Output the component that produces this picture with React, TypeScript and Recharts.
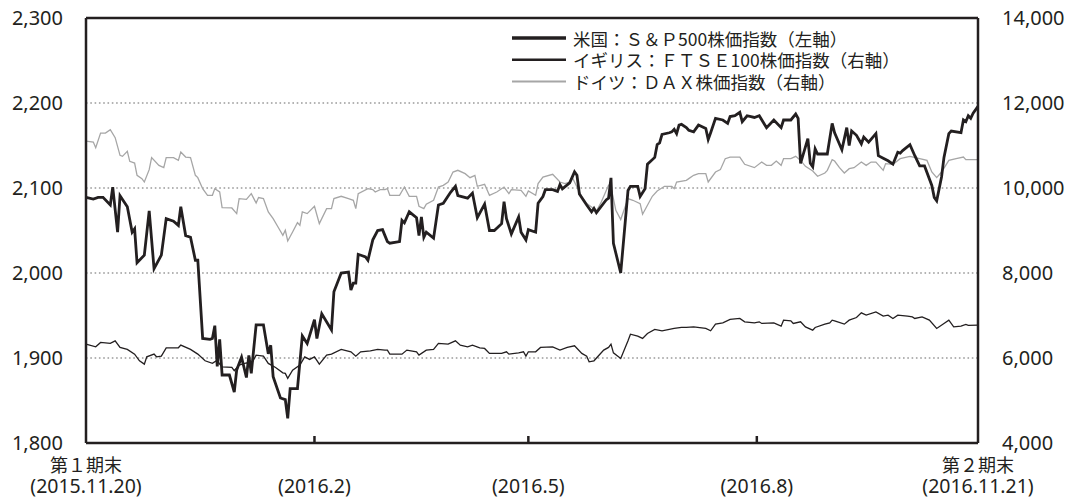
import React from 'react';
import {
  LineChart,
  Line,
  XAxis,
  YAxis,
  CartesianGrid,
  ReferenceLine,
  Legend,
} from 'recharts';

// days counted from 2015-11-20 (period 1 end) to 2016-11-21 (period 2 end)
const spDays = [
  0, 3, 5, 7, 10, 11, 13, 14, 17, 19, 20, 21, 24, 26, 28, 31, 33, 36, 38, 39, 41, 43, 45, 46, 48, 51, 52, 53, 54, 55,
  56, 59, 61, 62, 64, 66, 67, 68, 70, 73, 75, 76, 77, 80, 82, 83, 84, 87, 89, 91, 94, 95, 97, 101, 102, 105, 108, 109,
  110, 111, 112, 115, 116, 118, 120, 122, 123, 124, 125, 129, 130, 131, 133, 136, 137, 138, 139, 140, 143, 145, 147,
  150, 152, 153, 157, 159, 161, 164, 166, 168, 171, 172, 173, 175, 178, 179, 181, 182, 185, 186, 188, 189, 192, 194,
  195, 196, 199, 201, 202, 203, 206, 208, 209, 210, 214, 215, 216, 217, 220, 223, 224, 227, 228, 230, 231, 234, 235,
  236, 237, 240, 241, 242, 243, 244, 245, 247, 248, 250, 252, 255, 256, 257, 259, 262, 264, 265, 267, 269, 270, 272,
  275, 277, 280, 283, 286, 287, 290, 292, 293, 294, 297, 298, 299, 300, 301, 305, 307, 308, 311, 313, 314, 315, 317,
  319, 320, 322, 325, 326, 328, 330, 332, 334, 335, 336, 339, 341, 343, 345, 348, 349, 350, 352, 353, 355, 356, 360,
  361, 362, 363, 364, 365, 367,
];
const sp500 = [
  2089, 2087, 2089, 2089, 2080, 2101, 2048, 2091, 2078, 2048, 2052, 2012, 2021, 2073, 2005, 2021, 2064, 2061, 2056,
  2078, 2044, 2042, 2015, 2015, 1923, 1922, 1923, 1938, 1890, 1922, 1880, 1880, 1860, 1886, 1901, 1877, 1903, 1882,
  1939, 1939, 1905, 1915, 1878, 1853, 1851, 1829, 1864, 1864, 1926, 1917, 1945, 1923, 1952, 1933, 1978, 2000, 2001,
  1980, 1988, 1988, 2022, 2019, 2015, 2039, 2050, 2051, 2044, 2037, 2035, 2037, 2062, 2059, 2072, 2065, 2044, 2066,
  2042, 2048, 2041, 2080, 2082, 2095, 2102, 2091, 2088, 2094, 2065, 2081, 2050, 2050, 2058, 2084, 2064, 2046, 2066,
  2048, 2039, 2051, 2048, 2082, 2090, 2098, 2098, 2096, 2104, 2099, 2106, 2119, 2115, 2093, 2080, 2072, 2076, 2071,
  2086, 2088, 2112, 2035, 2000, 2097, 2102, 2102, 2090, 2099, 2128, 2136, 2151, 2153, 2163, 2165, 2166, 2169, 2164,
  2174, 2175, 2171, 2168, 2166, 2174, 2170, 2157, 2165, 2182, 2180, 2176, 2184, 2185, 2189, 2178, 2185, 2183, 2185,
  2171, 2180, 2171, 2180, 2180, 2187, 2182, 2129, 2158, 2129, 2125, 2146, 2140, 2140, 2176, 2165, 2145, 2171, 2150,
  2167, 2162, 2152, 2160, 2154, 2164, 2138, 2135, 2132, 2128, 2142, 2141, 2144, 2151, 2138, 2126, 2126, 2103, 2089,
  2085, 2113, 2136, 2164, 2167, 2165, 2180, 2178, 2185, 2182, 2188, 2196,
];

const ftseDays = [
  0, 4, 6, 10, 12, 14, 17, 20, 22, 24, 25, 28, 29, 31, 33, 38, 39, 43, 46, 49, 52, 54, 55, 56, 60, 61, 63, 66, 68, 70,
  73, 75, 78, 81, 82, 83, 85, 88, 90, 92, 94, 96, 99, 101, 105, 109, 111, 113, 117, 120, 123, 124, 125, 130, 132, 136,
  137, 140, 143, 145, 149, 152, 154, 157, 159, 162, 164, 166, 171, 173, 174, 178, 180, 181, 182, 185, 187, 192, 195,
  198, 201, 204, 206, 207, 209, 213, 215, 216, 217, 220, 223, 224, 227, 229, 231, 234, 237, 242, 245, 247, 250, 255,
  257, 259, 262, 265, 269, 271, 275, 277, 278, 283, 286, 287, 290, 291, 294, 296, 299, 300, 304, 306, 307, 308, 312,
  314, 317, 319, 321, 325, 328, 330, 332, 334, 338, 340, 341, 344, 347, 350, 353, 355, 357, 360, 362, 363, 367,
];
const ftse100 = [
  6326, 6263, 6366, 6343, 6404, 6249, 6202, 6091, 5934, 5856, 6028, 6091, 6028, 6044, 6240, 6240, 6303, 6202, 6091,
  5934, 5873, 5950, 5856, 5793, 5778, 5700, 5833, 5887, 5856, 6068, 6044, 5873, 5778, 5652, 5638, 5520, 5715, 5833,
  6028, 5967, 6028, 5856, 6068, 6091, 6202, 6146, 6044, 6146, 6170, 6202, 6186, 6186, 6091, 6091, 6186, 6146, 6068,
  6186, 6202, 6343, 6326, 6404, 6303, 6263, 6303, 6240, 6225, 6108, 6108, 6146, 6091, 6122, 6146, 6044, 6146, 6146,
  6249, 6263, 6186, 6249, 6287, 6108, 6044, 5911, 5934, 6186, 6249, 6326, 6122, 5990, 6404, 6561, 6515, 6460, 6578,
  6672, 6640, 6695, 6719, 6719, 6733, 6695, 6640, 6797, 6827, 6907, 6930, 6851, 6827, 6851, 6813, 6827, 6750, 6891,
  6875, 6813, 6851, 6733, 6656, 6719, 6797, 6827, 6891, 6875, 6797, 6891, 6953, 7062, 7008, 7086, 6985, 7008, 6930,
  7008, 6985, 6968, 6930, 6968, 6891, 6695, 6813, 6891, 6733, 6750, 6790, 6766, 6774,
];

const daxDays = [
  0, 3, 4, 6, 8, 10, 12, 14, 15, 17, 18, 20, 21, 23, 24, 26, 27, 30, 32, 33, 36, 38, 39, 41, 43, 45, 46, 48, 50, 52,
  53, 55, 56, 60, 62, 63, 66, 68, 70, 71, 73, 75, 77, 79, 81, 82, 83, 85, 87, 88, 89, 91, 94, 96, 99, 101, 102, 105,
  108, 110, 111, 112, 116, 118, 119, 121, 123, 124, 125, 129, 131, 133, 136, 137, 139, 140, 143, 145, 147, 149, 151,
  153, 156, 158, 160, 161, 164, 166, 169, 172, 174, 175, 179, 181, 182, 185, 186, 188, 192, 195, 197, 199, 200, 201,
  204, 206, 208, 210, 212, 215, 216, 218, 220, 223, 225, 228, 229, 231, 233, 235, 238, 241, 242, 243, 247, 248, 250,
  252, 255, 256, 259, 261, 263, 265, 269, 271, 275, 278, 280, 282, 284, 286, 287, 290, 292, 294, 296, 299, 301, 304,
  305, 307, 308, 310, 312, 314, 316, 319, 321, 323, 325, 328, 329, 332, 335, 339, 343, 346, 348, 350, 352, 355, 358,
  361, 362, 367,
];
const dax = [
  11104, 11081, 10949, 11292, 11292, 11372, 11184, 10768, 10745, 10862, 10627, 10587, 10298, 10220, 10141, 10432,
  10714, 10533, 10479, 10714, 10714, 10650, 10846, 10728, 10714, 10298, 10244, 9985, 9828, 9828, 9985, 9906, 9539,
  9530, 9398, 9750, 9734, 9868, 9647, 9774, 9750, 9436, 9280, 9083, 8888, 9005, 8754, 8966, 9186, 9123, 9436, 9398,
  9570, 9163, 9515, 9515, 9750, 9805, 9750, 9711, 9515, 9868, 9985, 9962, 9906, 9962, 9962, 9985, 9828, 9828, 10023,
  9805, 9805, 9570, 9515, 9617, 9711, 10023, 10063, 10141, 10376, 10416, 10338, 10244, 10298, 10040, 10087, 9828,
  9906, 10023, 9868, 9962, 9946, 9805, 9929, 9828, 10103, 10258, 10322, 10141, 10103, 10141, 10258, 10141, 9788,
  9633, 9553, 9459, 9671, 10063, 10023, 9476, 9257, 9750, 9711, 9633, 9382, 9593, 9805, 9929, 10040, 10040, 9985,
  10141, 10181, 10220, 10298, 10338, 10338, 10141, 10376, 10432, 10690, 10728, 10728, 10557, 10479, 10611, 10533,
  10533, 10634, 10533, 10690, 10690, 10745, 10650, 10510, 10399, 10275, 10352, 10416, 10667, 10634, 10479, 10352,
  10455, 10479, 10611, 10533, 10611, 10611, 10416, 10573, 10557, 10690, 10745, 10690, 10650, 10376, 10244, 10376,
  10650, 10690, 10728, 10667, 10667,
];

const tickDays = [0, 94, 182, 276, 367];
const periodLabels = ['第１期末', '', '', '', '第２期末'];
const dateLabels = ['(2015.11.20)', '(2016.2)', '(2016.5)', '(2016.8)', '(2016.11.21)'];
const leftTicks = [1800, 1900, 2000, 2100, 2200, 2300];
const rightTicks = [4000, 6000, 8000, 10000, 12000, 14000];
const legendNames = ['米国：Ｓ＆Ｐ500株価指数（左軸）', 'イギリス：ＦＴＳＥ100株価指数（右軸）', 'ドイツ：ＤＡＸ株価指数（右軸）'];

const INK = '#231f20';
const GRAY = '#a6a6a6';
const FONT = "'Noto Sans', 'Noto Sans CJK JP', sans-serif";

const toRows = (days: number[], vals: number[]) => days.map((day, i) => ({ day, v: vals[i] }));
const spData = toRows(spDays, sp500);
const ftseData = toRows(ftseDays, ftse100);
const daxData = toRows(daxDays, dax);

const fmt = (v: number) => v.toLocaleString('en-US');

function DateTick(props: any) {
  const { x, y, payload } = props;
  const i = tickDays.indexOf(payload.value);
  const inner = i > 0 && i < tickDays.length - 1;
  return (
    <g>
      {inner && <line x1={x} x2={x} y1={y} y2={y - 7} stroke={INK} strokeWidth={2.5} />}
      {periodLabels[i] && (
        <text x={x} y={y + 29} textAnchor="middle" fontSize={18} fill={INK} fontFamily={FONT}>
          {periodLabels[i]}
        </text>
      )}
      <text x={x} y={y + 50} textAnchor="middle" fontSize={19.5} fill={INK} fontFamily={FONT}>
        {dateLabels[i]}
      </text>
    </g>
  );
}

const legendStyles = [
  { stroke: INK, width: 3.5 },
  { stroke: INK, width: 2.4 },
  { stroke: GRAY, width: 2 },
];

function LegendBox() {
  return (
    <svg width={430} height={70} style={{ overflow: 'visible' }}>
      {legendNames.map((name, i) => (
        <g key={name}>
          <line x1={0} x2={54} y1={10 + i * 21.7} y2={10 + i * 21.7} stroke={legendStyles[i].stroke} strokeWidth={legendStyles[i].width} />
          <text x={61} y={10 + i * 21.7} dominantBaseline="central" fontSize={17.5} fill={INK} fontFamily="'Noto Sans CJK JP', sans-serif">
            {name}
          </text>
        </g>
      ))}
    </svg>
  );
}

export default function App() {
  const tickStyle = { fontSize: 20, fill: INK, fontFamily: FONT };
  return (
    <div style={{ width: 1076, height: 499, marginTop: -8, marginLeft: -8 }}>
      <LineChart width={1076} height={499} margin={{ top: 18, right: 0, bottom: 0, left: 0 }}>
        <CartesianGrid yAxisId="left" vertical={false} stroke="#9a9a9a" strokeWidth={1.6} strokeDasharray="1.6 2.7" />
        <XAxis
          type="number"
          dataKey="day"
          domain={[0, 367]}
          ticks={tickDays}
          interval={0}
          height={56}
          tickSize={0}
          tickMargin={0}
          tickLine={false}
          axisLine={{ stroke: INK, strokeWidth: 2.5 }}
          tick={<DateTick />}
        />
        <YAxis
          yAxisId="left"
          domain={[1800, 2300]}
          ticks={leftTicks}
          width={86}
          tickSize={0}
          tickMargin={23}
          tickLine={false}
          tickFormatter={fmt}
          tick={tickStyle}
          axisLine={{ stroke: INK, strokeWidth: 2.5 }}
        />
        <YAxis
          yAxisId="right"
          orientation="right"
          domain={[4000, 14000]}
          ticks={rightTicks}
          width={98}
          tickSize={0}
          tickMargin={24}
          tickLine={false}
          tickFormatter={fmt}
          tick={{ ...tickStyle, textAnchor: 'start' }}
          axisLine={{ stroke: INK, strokeWidth: 2.5 }}
        />
        <ReferenceLine yAxisId="left" y={2300} stroke={INK} strokeWidth={2.5} />
        <Line yAxisId="right" data={daxData} dataKey="v" name={legendNames[2]} stroke={GRAY} strokeWidth={1.3} dot={false} isAnimationActive={false} />
        <Line yAxisId="right" data={ftseData} dataKey="v" name={legendNames[1]} stroke={INK} strokeWidth={1.3} dot={false} isAnimationActive={false} />
        <Line yAxisId="left" data={spData} dataKey="v" name={legendNames[0]} stroke={INK} strokeWidth={2.8} dot={false} isAnimationActive={false} />
        <Legend
          layout="horizontal"
          verticalAlign="middle"
          align="center"
          content={() => <LegendBox />}
          wrapperStyle={{ left: 512, top: 28, width: 'auto', height: 'auto' }}
        />
      </LineChart>
    </div>
  );
}
